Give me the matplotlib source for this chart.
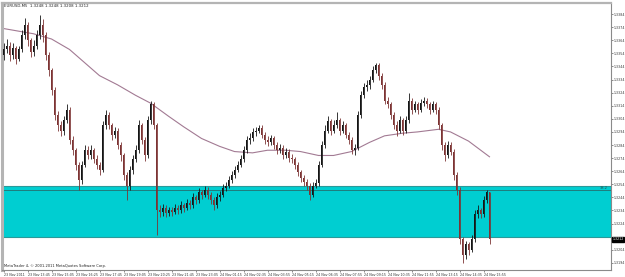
import matplotlib
matplotlib.use('Agg')
import matplotlib.pyplot as plt
import numpy as np

# EURUSD M5 candles, 23-24 Nov 2011
symbol = 'EURUSD,M5'
first_open = 1.3353
closes = [1.3357, 1.3360, 1.3353, 1.3358, 1.3350, 1.3357, 1.3368, 1.3376, 1.3364, 1.3355,
          1.3360, 1.3368, 1.3376, 1.3368, 1.3353, 1.3341, 1.3326, 1.3307, 1.3299, 1.3295,
          1.3303, 1.3311, 1.3288, 1.3280, 1.3269, 1.3257, 1.3269, 1.3280, 1.3276, 1.3280,
          1.3273, 1.3269, 1.3265, 1.3299, 1.3307, 1.3299, 1.3292, 1.3295, 1.3284, 1.3276,
          1.3261, 1.3253, 1.3265, 1.3273, 1.3280, 1.3299, 1.3288, 1.3276, 1.3303, 1.3315,
          1.3299, 1.3234, 1.3233, 1.3236, 1.3232, 1.3234, 1.3233, 1.3236, 1.3234, 1.3238,
          1.3236, 1.3240, 1.3238, 1.3244, 1.3242, 1.3248, 1.3246, 1.3250, 1.3246, 1.3242,
          1.3238, 1.3244, 1.3246, 1.3251, 1.3253, 1.3257, 1.3261, 1.3265, 1.3269, 1.3273,
          1.3280, 1.3288, 1.3289, 1.3294, 1.3295, 1.3297, 1.3292, 1.3288, 1.3286, 1.3289,
          1.3284, 1.3280, 1.3282, 1.3276, 1.3279, 1.3274, 1.3273, 1.3269, 1.3263, 1.3259,
          1.3256, 1.3253, 1.3246, 1.3253, 1.3255, 1.3269, 1.3284, 1.3295, 1.3302, 1.3295,
          1.3299, 1.3303, 1.3295, 1.3299, 1.3292, 1.3288, 1.3280, 1.3282, 1.3307, 1.3322,
          1.3328, 1.3330, 1.3334, 1.3341, 1.3345, 1.3337, 1.3330, 1.3318, 1.3315, 1.3307,
          1.3299, 1.3295, 1.3303, 1.3295, 1.3303, 1.3318, 1.3311, 1.3315, 1.3311, 1.3316,
          1.3318, 1.3315, 1.3311, 1.3315, 1.3311, 1.3299, 1.3284, 1.3276, 1.3284, 1.3279,
          1.3261, 1.3250, 1.3212, 1.3200, 1.3208, 1.3204, 1.3212, 1.3231, 1.3234, 1.3231,
          1.3242, 1.3248, 1.3212]
highs = [1.3362, 1.3365, 1.3363, 1.3362, 1.3360, 1.3360, 1.3372, 1.3381, 1.3378, 1.3366,
         1.3364, 1.3372, 1.3383, 1.3380, 1.3370, 1.3355, 1.3343, 1.3328, 1.3310, 1.3302,
         1.3306, 1.3315, 1.3313, 1.3291, 1.3282, 1.3271, 1.3272, 1.3284, 1.3283, 1.3284,
         1.3282, 1.3276, 1.3271, 1.3302, 1.3311, 1.3309, 1.3301, 1.3298, 1.3297, 1.3286,
         1.3278, 1.3263, 1.3268, 1.3276, 1.3284, 1.3303, 1.3301, 1.3290, 1.3306, 1.3318,
         1.3317, 1.3301, 1.3238, 1.3239, 1.3238, 1.3237, 1.3237, 1.3239, 1.3238, 1.3241,
         1.3240, 1.3243, 1.3242, 1.3247, 1.3246, 1.3251, 1.3250, 1.3253, 1.3252, 1.3248,
         1.3244, 1.3247, 1.3249, 1.3254, 1.3256, 1.3260, 1.3264, 1.3268, 1.3272, 1.3276,
         1.3283, 1.3291, 1.3293, 1.3297, 1.3298, 1.3299, 1.3299, 1.3294, 1.3291, 1.3292,
         1.3291, 1.3286, 1.3285, 1.3284, 1.3282, 1.3281, 1.3277, 1.3275, 1.3271, 1.3265,
         1.3261, 1.3258, 1.3255, 1.3256, 1.3258, 1.3272, 1.3287, 1.3299, 1.3306, 1.3304,
         1.3303, 1.3309, 1.3305, 1.3302, 1.3301, 1.3294, 1.3290, 1.3285, 1.3310, 1.3325,
         1.3331, 1.3334, 1.3337, 1.3344, 1.3347, 1.3347, 1.3339, 1.3332, 1.3321, 1.3317,
         1.3309, 1.3302, 1.3306, 1.3305, 1.3306, 1.3324, 1.3320, 1.3318, 1.3317, 1.3319,
         1.3321, 1.3320, 1.3317, 1.3318, 1.3317, 1.3313, 1.3301, 1.3286, 1.3287, 1.3286,
         1.3281, 1.3263, 1.3252, 1.3214, 1.3211, 1.3210, 1.3215, 1.3234, 1.3238, 1.3236,
         1.3245, 1.3250, 1.3248]
lows = [1.3349, 1.3354, 1.3348, 1.3350, 1.3346, 1.3348, 1.3355, 1.3365, 1.3360, 1.3351,
        1.3352, 1.3357, 1.3365, 1.3363, 1.3349, 1.3337, 1.3322, 1.3303, 1.3295, 1.3291,
        1.3292, 1.3301, 1.3285, 1.3276, 1.3265, 1.3250, 1.3254, 1.3267, 1.3273, 1.3273,
        1.3270, 1.3266, 1.3261, 1.3263, 1.3296, 1.3296, 1.3288, 1.3289, 1.3281, 1.3272,
        1.3257, 1.3242, 1.3250, 1.3262, 1.3271, 1.3278, 1.3285, 1.3272, 1.3274, 1.3300,
        1.3296, 1.3215, 1.3229, 1.3230, 1.3229, 1.3230, 1.3230, 1.3231, 1.3231, 1.3232,
        1.3233, 1.3234, 1.3235, 1.3236, 1.3239, 1.3240, 1.3243, 1.3244, 1.3243, 1.3239,
        1.3234, 1.3236, 1.3241, 1.3244, 1.3249, 1.3251, 1.3255, 1.3259, 1.3263, 1.3267,
        1.3271, 1.3278, 1.3285, 1.3287, 1.3291, 1.3293, 1.3289, 1.3285, 1.3283, 1.3284,
        1.3281, 1.3277, 1.3278, 1.3273, 1.3274, 1.3271, 1.3270, 1.3266, 1.3260, 1.3256,
        1.3253, 1.3250, 1.3242, 1.3244, 1.3251, 1.3253, 1.3267, 1.3282, 1.3293, 1.3292,
        1.3293, 1.3297, 1.3292, 1.3293, 1.3289, 1.3285, 1.3277, 1.3276, 1.3280, 1.3305,
        1.3320, 1.3325, 1.3327, 1.3332, 1.3339, 1.3334, 1.3327, 1.3315, 1.3312, 1.3304,
        1.3296, 1.3291, 1.3293, 1.3292, 1.3293, 1.3301, 1.3308, 1.3309, 1.3308, 1.3309,
        1.3314, 1.3312, 1.3308, 1.3309, 1.3308, 1.3296, 1.3280, 1.3272, 1.3274, 1.3276,
        1.3257, 1.3246, 1.3208, 1.3194, 1.3197, 1.3200, 1.3202, 1.3210, 1.3228, 1.3228,
        1.3229, 1.3240, 1.3208]

# moving average, sampled along the line
ma_bars = [0, 10, 16, 22, 27, 32, 38, 44, 49, 55, 60, 66, 72, 77, 83, 88, 94, 99, 105,
           110, 116, 122, 127, 133, 138, 145, 149, 155, 162]
ma_vals = [1.3373, 1.3369, 1.3365, 1.3357, 1.3347, 1.3337, 1.3330, 1.3322, 1.3316, 1.3306,
           1.3298, 1.3289, 1.3283, 1.3279, 1.3278, 1.3280, 1.3280, 1.3279, 1.3276, 1.3276,
           1.3279, 1.3286, 1.3291, 1.3293, 1.3294, 1.3296, 1.3294, 1.3287, 1.3275]

zone_top = 1.3253
zone_line = 1.3250
zone_bottom = 1.3214

time_labels = ['23 Nov 2011', '23 Nov 13:45', '23 Nov 15:05', '23 Nov 16:25', '23 Nov 17:45',
               '23 Nov 19:05', '23 Nov 20:25', '23 Nov 21:45', '23 Nov 23:05', '24 Nov 01:15',
               '24 Nov 02:35', '24 Nov 03:55', '24 Nov 05:15', '24 Nov 06:35', '24 Nov 07:55',
               '24 Nov 09:15', '24 Nov 10:35', '24 Nov 11:55', '24 Nov 13:15', '24 Nov 14:35',
               '24 Nov 15:55']
bars_per_label = 8
price_ticks = [1.3194 + 0.001 * k for k in range(20)]

opens = [first_open] + closes[:-1]
n = len(closes)
idx = np.arange(n)
o = np.array(opens)
c = np.array(closes)
h = np.array(highs)
l = np.array(lows)

fig = plt.figure(figsize=(6.25, 2.77), dpi=100)
ax = fig.add_axes([2 / 625, 7 / 277, 609 / 625, 267 / 277])

# turquoise zone
ax.axhspan(zone_bottom, zone_top, facecolor='#00CED1', edgecolor='#2a9a9a', linewidth=0.8, zorder=1)
ax.axhline(zone_line, color='#256f6f', linewidth=0.6, zorder=1.1)
ax.text(0.995, zone_line, '38.2', transform=ax.get_yaxis_transform(), ha='right', va='bottom',
        fontsize=2.6, color='#1d4d4d', zorder=5)

# candles
up = c >= o
cols = np.where(up, '#151515', '#7d3434')
ax.vlines(idx, l, h, colors=cols, linewidth=0.6, zorder=3)
body_low = np.minimum(o, c)
body_h = np.maximum(np.abs(c - o), 0.00004)
ax.bar(idx, body_h, bottom=body_low, width=0.6, color=cols, linewidth=0, zorder=3)

# MA
ax.plot(ma_bars, ma_vals, color='#a27a93', linewidth=0.8, zorder=2)

ax.set_xlim(-0.5, 202.5)
ax.set_ylim(1.31885, 1.33925)

for s in ['bottom', 'right']:
    ax.spines[s].set_color('#8a8a8a')
    ax.spines[s].set_linewidth(0.8)
ax.spines['left'].set_color('#b4b4b4')
ax.spines['left'].set_linewidth(2.2)
ax.spines['top'].set_color('#b4b4b4')
ax.spines['top'].set_linewidth(1.6)

shown = [t for t in price_ticks if abs(t - 1.3214) > 0.0003]
ax.yaxis.tick_right()
ax.set_yticks(shown)
ax.set_yticklabels(['%.4f' % t for t in shown])
ax.tick_params(axis='y', labelsize=2.3, length=1.2, width=0.4, pad=0.5, colors='#333333')

ax.set_xticks([k * bars_per_label for k in range(len(time_labels))])
ax.set_xticklabels(time_labels, ha='left')
ax.tick_params(axis='x', labelsize=2.3, length=1.2, width=0.4, pad=0.8, colors='#333333')

# current price box
ax.text(1.002, c[-1], '%.4f' % c[-1], transform=ax.get_yaxis_transform(), ha='left', va='center',
        fontsize=2.3, color='white', zorder=10, clip_on=False,
        bbox=dict(boxstyle='square,pad=0.12', facecolor='black', edgecolor='black'))

ax.text(0.004, 0.995, '%s  %.4f %.4f %.4f %.4f' % (symbol, o[-1], h[-1], l[-1], c[-1]),
        transform=ax.transAxes, ha='left', va='top', fontsize=2.8, color='#222222')
ax.text(0.004, 0.008, 'MetaTrader 4, \u00a9 2001-2011 MetaQuotes Software Corp.',
        transform=ax.transAxes, ha='left', va='bottom', fontsize=2.6, color='#222222')

fig.savefig('out.png', dpi=100, facecolor='white')
